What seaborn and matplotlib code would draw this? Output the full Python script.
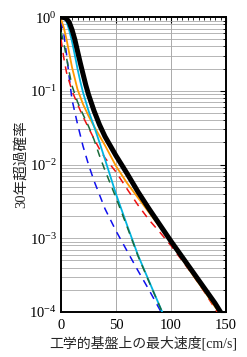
import numpy as np
import pandas as pd
import matplotlib
matplotlib.use("Agg")
import matplotlib.pyplot as plt
import matplotlib.ticker as mticker
import seaborn as sns

# ---- data (x: peak velocity [cm/s], values: log10 of 30-year exceedance probability) ----
x_black = [0, 2.5, 5, 7.5, 10, 12.5, 15, 17.5, 20, 22.5, 25, 30, 35, 40, 50, 60, 70, 80, 90,
           100, 110, 120, 130, 140, 145]
lg_black = [0, -0.005, -0.02, -0.07, -0.17, -0.3, -0.46, -0.62, -0.77, -0.92, -1.05, -1.27,
            -1.46, -1.62, -1.88, -2.12, -2.37, -2.6, -2.82, -3.04, -3.25, -3.46, -3.67, -3.88, -4.0]

x_orange = [0, 2.5, 5, 7.5, 10, 15, 20, 25, 30, 35, 40, 50, 60, 70, 80, 90, 100, 110, 120, 130, 140, 143.5]
lg_orange = [-0.03, -0.14, -0.3, -0.49, -0.68, -0.98, -1.18, -1.34, -1.48, -1.61, -1.74, -2.02,
             -2.25, -2.45, -2.65, -2.85, -3.06, -3.28, -3.5, -3.71, -3.93, -4.0]

x_cyan = [0, 2.5, 5, 7.5, 10, 12.5, 15, 17.5, 20, 25, 30, 35, 40, 50, 60, 70, 80, 92]
lg_cyan = [0, -0.01, -0.06, -0.18, -0.33, -0.51, -0.7, -0.87, -1.02, -1.27, -1.48, -1.7, -1.93,
           -2.4, -2.82, -3.23, -3.58, -4.0]

x_green = [0, 2.5, 5, 7.5, 10, 15, 20, 25, 30, 35, 40, 50, 60, 70, 80, 92]
lg_green = [-0.2, -0.35, -0.55, -0.75, -0.93, -1.15, -1.32, -1.48, -1.66, -1.88, -2.08, -2.45,
            -2.84, -3.24, -3.59, -4.0]

x_red = [0, 2.5, 5, 10, 15, 20, 25, 30, 35, 40, 50, 60, 70, 80, 90, 100, 110, 120, 130, 142]
lg_red = [-0.3, -0.55, -0.75, -1.0, -1.18, -1.35, -1.5, -1.65, -1.79, -1.91, -2.1, -2.33, -2.55,
          -2.75, -2.92, -3.1, -3.3, -3.5, -3.72, -4.0]

x_blue = [0, 2.5, 5, 7.5, 10, 15, 20, 25, 30, 40, 50, 60, 70, 80, 91]
lg_blue = [-0.05, -0.22, -0.5, -0.82, -1.12, -1.45, -1.75, -2.0, -2.22, -2.6, -2.9, -3.17,
           -3.44, -3.7, -4.0]

x_ticks = [0, 50, 100, 150]
y_ticks = [1e-4, 1e-3, 1e-2, 1e-1, 1e0]
xlabel = "工学的基盤上の最大速度[cm/s]"
ylabel = "30年超過確率"

sns.set_style("white")
plt.rcParams["font.family"] = ["Liberation Serif", "Noto Sans CJK JP"]
plt.rcParams["mathtext.fontset"] = "stix"

fig = plt.figure(figsize=(2.47, 3.57), dpi=100)
ax = fig.add_axes([0.247, 0.126, 0.668, 0.826])

def series(xs, lg):
    return pd.DataFrame({"v": xs, "p": np.power(10.0, lg)})

styles = [
    (x_blue, lg_blue, "#1010ee", 1.1, (0, (5, 4))),
    (x_red, lg_red, "#ee1010", 1.1, (0, (5, 4))),
    (x_orange, lg_orange, "#ff9900", 1.3, "-"),
    (x_cyan, lg_cyan, "#00b4e0", 1.3, "-"),
    (x_green, lg_green, "#1a6b3a", 1.1, (0, (5, 4))),
    (x_black, lg_black, "black", 3.6, "-"),
]
for xs, lg, c, lw, ls in styles:
    d = series(xs, lg)
    sns.lineplot(data=d, x="v", y="p", ax=ax, color=c, lw=lw, linestyle=ls,
                 sort=False, estimator=None, zorder=3)

ax.set_yscale("log")
ax.set_xlim(0, 150)
ax.set_ylim(1e-4, 1e0)
ax.set_xticks(x_ticks)
ax.set_yticks(y_ticks)
ax.xaxis.set_minor_locator(mticker.MultipleLocator(5))
ax.yaxis.set_minor_locator(mticker.LogLocator(base=10, subs=np.arange(2, 10)))
ax.yaxis.set_minor_formatter(mticker.NullFormatter())

ax.grid(True, which="major", axis="x", color="#aaaaaa", lw=0.7)
ax.grid(True, which="both", axis="y", color="#aaaaaa", lw=0.6)

ax.tick_params(axis="both", which="both", direction="in", top=True, right=True,
               labelsize=10.5, colors="black", pad=3)
ax.tick_params(axis="x", which="major", pad=5)
ax.tick_params(which="major", length=4, width=0.8)
ax.tick_params(which="minor", length=2.5, width=0.6)
for s in ax.spines.values():
    s.set_color("black")
    s.set_linewidth(1.4)

ax.set_xlabel(xlabel, fontsize=10, labelpad=3)
ax.set_ylabel(ylabel, fontsize=10.5, labelpad=1)

fig.savefig("out.png", dpi=100)
